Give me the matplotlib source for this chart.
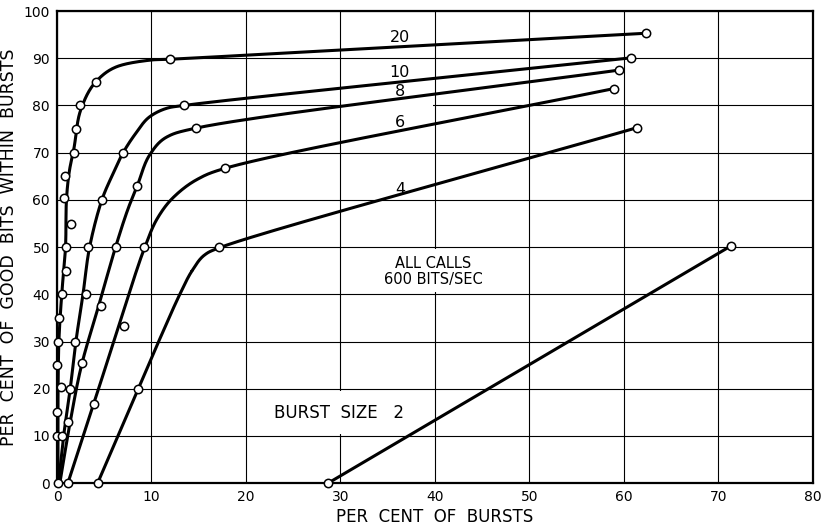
import matplotlib
matplotlib.use("Agg")
import matplotlib.pyplot as plt
from matplotlib.patches import Rectangle
import numpy as np

# traced path of each curve (per cent of bursts, per cent of good bits)
path_20 = [(0.1, 0), (0.1, 15), (0.2, 30), (0.5, 40), (0.9, 50), (1.0, 60), (1.3, 66),
           (1.8, 71), (2.5, 79), (4.1, 85), (6.3, 88.2), (9.8, 89.6), (12, 89.8), (62.3, 95.3)]
path_10 = [(0.15, 0), (0.7, 10), (1.4, 20), (2.0, 30), (2.75, 40), (3.45, 50), (4.75, 60),
           (5.8, 65), (7.0, 70), (8.3, 74), (9.8, 77.6), (11.6, 79.4), (13.4, 80), (60.8, 90.1)]
path_8 = [(0.3, 0), (1.4, 13), (2.6, 25), (4.4, 37.5), (6.2, 50), (7.5, 58), (8.5, 63),
          (9.8, 69.5), (11.6, 73.3), (14.7, 75.2), (59.5, 87.5)]
path_6 = [(1.15, 0), (4.0, 17.5), (6.0, 30), (8.0, 42.5), (9.3, 50), (10.6, 56),
          (12.3, 60.5), (14.8, 64.3), (17.8, 66.7), (59.0, 83.6)]
path_4 = [(4.3, 0), (8.6, 20), (11.2, 32), (13.0, 40), (14.3, 45), (15.6, 48.3), (17.1, 49.8),
          (61.4, 75.3)]
path_2 = [(28.7, 0), (71.3, 50.2)]

# plotted observations (open circles)
pts_20 = [(0.15, 0), (0, 10), (0.5, 10), (0, 15), (0.42, 20.3), (0, 25), (0.14, 30), (0.2, 35),
          (0.5, 40), (1.0, 45), (1.0, 50), (1.5, 55), (0.78, 60.5), (0.88, 65), (1.76, 70),
          (2.05, 75), (2.47, 80), (4.1, 85), (12, 89.8), (62.3, 95.3)]
pts_10 = [(1.41, 20), (1.9, 30), (3.05, 40), (3.24, 50), (4.8, 60), (7.0, 70), (13.4, 80),
          (60.8, 90.1)]
pts_8 = [(1.13, 13), (2.6, 25.4), (4.7, 37.5), (6.24, 50), (8.5, 63), (14.7, 75.3), (59.5, 87.5)]
pts_6 = [(1.15, 0), (3.95, 16.7), (7.1, 33.3), (9.24, 50), (17.8, 66.7), (59.0, 83.6)]
pts_4 = [(4.3, 0), (8.6, 20), (17.1, 50), (61.4, 75.3)]
pts_2 = [(28.7, 0), (71.3, 50.2)]

curve_labels = ["20", "10", "8", "6", "4"]
label_pos = [(36.3, 94.5), (36.3, 87.0), (36.3, 82.9), (36.3, 76.3), (36.3, 62.3)]


def smooth(path, n=40):
    # centripetal catmull-rom through the traced points
    p = np.array(path, dtype=float)
    if len(p) < 3:
        return p[:, 0], p[:, 1]
    p = np.vstack([2 * p[0] - p[1], p, 2 * p[-1] - p[-2]])
    xs, ys = [], []
    for i in range(1, len(p) - 2):
        p0, p1, p2, p3 = p[i - 1], p[i], p[i + 1], p[i + 2]
        t0 = 0.0
        t1 = t0 + np.linalg.norm(p1 - p0) ** 0.5 + 1e-9
        t2 = t1 + np.linalg.norm(p2 - p1) ** 0.5 + 1e-9
        t3 = t2 + np.linalg.norm(p3 - p2) ** 0.5 + 1e-9
        t = np.linspace(t1, t2, n)[:, None]
        a1 = (t1 - t) / (t1 - t0) * p0 + (t - t0) / (t1 - t0) * p1
        a2 = (t2 - t) / (t2 - t1) * p1 + (t - t1) / (t2 - t1) * p2
        a3 = (t3 - t) / (t3 - t2) * p2 + (t - t2) / (t3 - t2) * p3
        b1 = (t2 - t) / (t2 - t0) * a1 + (t - t0) / (t2 - t0) * a2
        b2 = (t3 - t) / (t3 - t1) * a2 + (t - t1) / (t3 - t1) * a3
        c = (t2 - t) / (t2 - t1) * b1 + (t - t1) / (t2 - t1) * b2
        xs.extend(c[:, 0])
        ys.extend(c[:, 1])
    return np.array(xs), np.array(ys)


plt.rcParams['font.family'] = ['DejaVu Sans']
fig = plt.figure(figsize=(8.31, 5.28), dpi=100)
ax = fig.add_axes([0.0686, 0.085, 0.9094, 0.894])

ax.set_xlim(0, 80)
ax.set_ylim(0, 100)
ax.set_xticks(np.arange(0, 81, 10))
ax.set_yticks(np.arange(0, 101, 10))
ax.grid(True, color='black', linewidth=0.8, zorder=0)
ax.set_axisbelow(True)
for s in ax.spines.values():
    s.set_linewidth(1.6)
ax.tick_params(length=0, labelsize=10, pad=5)

# blank cells behind the lettering
for (x0, y0, w, h) in [(20.25, 10.4, 19.5, 9.2), (30.25, 40.4, 19.5, 9.2), (30.2, 78.5, 9.6, 3.0)]:
    ax.add_patch(Rectangle((x0, y0), w, h, facecolor='white', edgecolor='none', zorder=1))

for path in [path_20, path_10, path_8, path_6, path_4, path_2]:
    x, y = smooth(path)
    ax.plot(x, y, color='black', linewidth=2.2, solid_capstyle='round', zorder=3)

for pts in [pts_20, pts_10, pts_8, pts_6, pts_4, pts_2]:
    a = np.array(pts)
    ax.plot(a[:, 0], a[:, 1], linestyle='none', marker='o', markersize=6,
            markerfacecolor='white', markeredgecolor='black', markeredgewidth=1.1,
            clip_on=False, zorder=4)

for lab, (lx, ly) in zip(curve_labels, label_pos):
    ax.text(lx, ly, lab, fontsize=11.5, ha='center', va='center', zorder=2)

ax.text(39.8, 44.9, "ALL CALLS\n600 BITS/SEC", fontsize=10.5, ha='center', va='center',
        linespacing=1.1, zorder=2)
ax.text(29.8, 14.8, "BURST  SIZE   2", fontsize=12, ha='center', va='center', zorder=2)

ax.set_xlabel("PER  CENT  OF  BURSTS", fontsize=12, labelpad=3)
ax.set_ylabel("PER  CENT  OF  GOOD  BITS  WITHIN  BURSTS", fontsize=12.5, labelpad=4)

fig.savefig("out.png", dpi=100)
